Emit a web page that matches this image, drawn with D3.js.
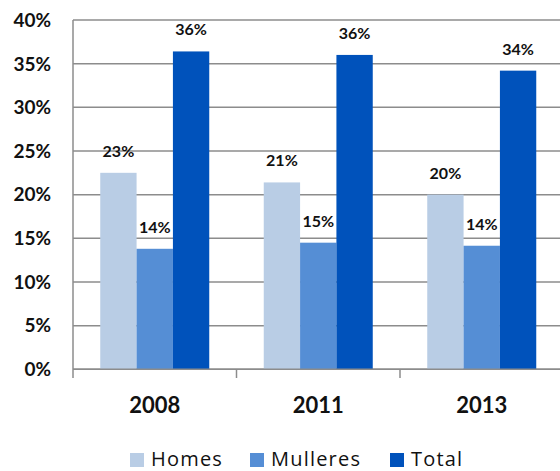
<!DOCTYPE html>
<html><head><meta charset="utf-8">
<script src="https://cdn.jsdelivr.net/npm/d3@7"></script>
<style>body{margin:0;background:#fff;}svg{display:block;}</style>
</head><body>
<svg id="c" width="560" height="471"></svg>
<script>
const categories = ["2008", "2011", "2013"];
const seriesNames = ["Homes", "Mulleres", "Total"];
const homes = [22.5, 21.4, 20.0];
const mulleres = [13.8, 14.5, 14.15];
const total = [36.4, 36.0, 34.2];
const labelsHomes = ["23%", "21%", "20%"];
const labelsMulleres = ["14%", "15%", "14%"];
const labelsTotal = ["36%", "36%", "34%"];
const yTicks = [0, 5, 10, 15, 20, 25, 30, 35, 40];
const colors = ["#b9cde5", "#558ed5", "#0052bb"];

const seriesValues = [homes, mulleres, total];
const seriesLabels = [labelsHomes, labelsMulleres, labelsTotal];

const svg = d3.select("#c");
const pL = 73, pR = 563.5, pT = 20, pB = 369.3;
const font = "Lato, 'Open Sans', sans-serif";

const x = d3.scaleBand().domain(categories).range([pL, pR]).paddingInner(0).paddingOuter(0);
const y = d3.scaleLinear().domain([0, 40]).range([pB, pT]);
const inner = d3.scaleBand().domain(seriesNames).range([0, x.bandwidth()]).paddingOuter(0.75).paddingInner(0);

// gridlines
svg.append("g").selectAll("line").data(yTicks).join("line")
  .attr("x1", pL).attr("x2", 560)
  .attr("y1", d => y(d)).attr("y2", d => y(d))
  .attr("stroke", "#8c8c8c").attr("stroke-width", 1.5);

// y labels
svg.append("g").selectAll("text").data(yTicks).join("text")
  .attr("x", 51).attr("y", d => y(d)).attr("dy", "0.36em")
  .attr("text-anchor", "end").attr("font-family", font).attr("font-weight", "bold")
  .attr("font-size", 19).attr("fill", "#111").text(d => d + "%");

// bars
const g = svg.append("g");
seriesNames.forEach((s, si) => {
  g.append("g").selectAll("rect").data(categories).join("rect")
    .attr("x", c => x(c) + inner(s))
    .attr("width", inner.bandwidth())
    .attr("y", (c, i) => y(seriesValues[si][i]))
    .attr("height", (c, i) => pB - y(seriesValues[si][i]))
    .attr("fill", colors[si]);
  g.append("g").selectAll("text").data(categories).join("text")
    .attr("x", c => x(c) + inner(s) + inner.bandwidth() / 2)
    .attr("y", (c, i) => y(seriesValues[si][i]) - 16)
    .attr("text-anchor", "middle").attr("font-family", font).attr("font-weight", "bold")
    .attr("font-size", 16).attr("fill", "#111").text((c, i) => seriesLabels[si][i]);
});

// axes lines
svg.append("line").attr("x1", pL).attr("x2", pL).attr("y1", pT).attr("y2", 378)
  .attr("stroke", "#8c8c8c").attr("stroke-width", 1.5);
svg.append("line").attr("x1", pL).attr("x2", 560).attr("y1", pB).attr("y2", pB)
  .attr("stroke", "#8c8c8c").attr("stroke-width", 1.5);
svg.append("g").selectAll("line").data(categories.slice(1)).join("line")
  .attr("x1", c => x(c)).attr("x2", c => x(c)).attr("y1", pB).attr("y2", 378)
  .attr("stroke", "#8c8c8c").attr("stroke-width", 1.5);

// x labels
svg.append("g").selectAll("text").data(categories).join("text")
  .attr("x", c => x(c) + x.bandwidth() / 2).attr("y", 405).attr("dy", "0.36em")
  .attr("text-anchor", "middle").attr("font-family", font).attr("font-weight", "bold")
  .attr("font-size", 22).attr("fill", "#111").text(c => c);

// legend
const legendX = [130, 250, 390];
const lg = svg.append("g");
seriesNames.forEach((s, i) => {
  lg.append("rect").attr("x", legendX[i]).attr("y", 453).attr("width", 14).attr("height", 14).attr("fill", colors[i]);
  lg.append("text").attr("x", legendX[i] + 21).attr("y", 466)
    .attr("font-family", "'Open Sans', sans-serif").attr("font-size", 20)
    .attr("letter-spacing", 1.2).attr("fill", "#111").text(s);
});
</script>
</body></html>
